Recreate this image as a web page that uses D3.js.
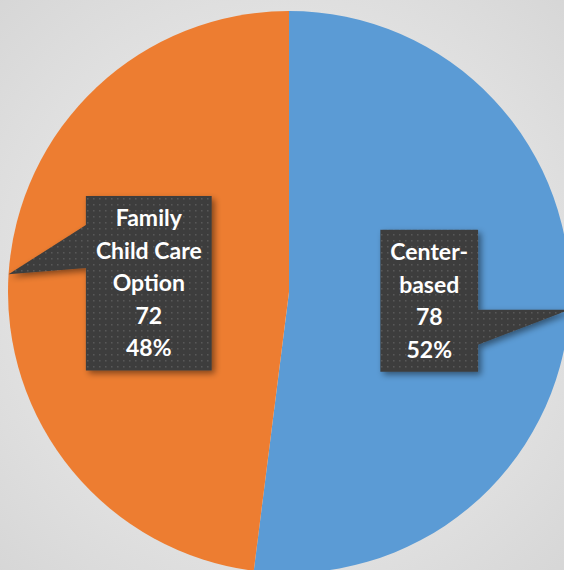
<!DOCTYPE html>
<html>
<head>
<meta charset="utf-8">
<script src="https://cdn.jsdelivr.net/npm/d3@7"></script>
<style>
  html, body { margin: 0; padding: 0; background: #e6e6e6; }
  svg { display: block; }
</style>
</head>
<body>
<div id="chart"></div>
<script>
// data
var categories = ["Center-based", "Family Child Care Option"];
var values = [78, 72];
var labelLines = [["Center-", "based"], ["Family", "Child Care", "Option"]];
var colors = ["#5b9bd5", "#ed7d31"];

var width = 564, height = 570;
var cx = 289, cy = 292, radius = 281;

var svg = d3.select("#chart").append("svg")
    .attr("width", width)
    .attr("height", height);

var defs = svg.append("defs");

// background gradient
var bg = defs.append("radialGradient").attr("id", "bg_grad")
    .attr("cx", "50%").attr("cy", "50%").attr("r", "72%");
bg.append("stop").attr("offset", "0%").attr("stop-color", "#f4f4f4");
bg.append("stop").attr("offset", "100%").attr("stop-color", "#d6d6d6");

// dotted texture for the callouts
var pat = defs.append("pattern").attr("id", "dots")
    .attr("width", 6).attr("height", 6)
    .attr("patternUnits", "userSpaceOnUse");
pat.append("rect").attr("width", 6).attr("height", 6).attr("fill", "#3d3d3d");
pat.append("rect").attr("x", 2).attr("y", 2).attr("width", 1.5).attr("height", 1.5).attr("fill", "#585858");

var shadow = defs.append("filter").attr("id", "shadow")
    .attr("x", "-20%").attr("y", "-20%").attr("width", "150%").attr("height", "150%");
shadow.append("feDropShadow")
    .attr("dx", 3).attr("dy", 3).attr("stdDeviation", 3)
    .attr("flood-color", "#000").attr("flood-opacity", 0.45);

svg.append("rect")
    .attr("width", width)
    .attr("height", height)
    .attr("fill", "url(#bg_grad)");

var pie = d3.pie().sort(null).value(function (d) { return d; });
var arcs = pie(values);
var total = d3.sum(values);

var arc = d3.arc().innerRadius(0).outerRadius(radius);

var vis = svg.append("g")
    .attr("transform", "translate(" + cx + "," + cy + ")");

vis.selectAll("path.slice")
    .data(arcs)
    .enter().append("path")
    .attr("class", "slice")
    .attr("d", arc)
    .attr("fill", function (d, i) { return colors[i]; });

// Draw the callouts------------------------------
var lineH = 32.5, padX = 10, padY = 6;
// where the wedge meets the box side, as offsets from the box top
var tailBase = [[80, 115], [29, 72]];

arcs.forEach(function (d, i) {
    var mid = (d.startAngle + d.endAngle) / 2;
    var tip = [radius * Math.sin(mid), -radius * Math.cos(mid)];
    var c = arc.centroid(d);
    var lines = labelLines[i].concat([String(values[i]), Math.round(values[i] / total * 100) + "%"]);

    var g = vis.append("g");
    var txt = g.append("g");
    var maxW = 0;
    lines.forEach(function (l, k) {
        var t = txt.append("text")
            .attr("x", c[0])
            .attr("y", c[1] + (k - (lines.length - 1) / 2) * lineH)
            .attr("dy", "0.36em")
            .attr("text-anchor", "middle")
            .style("font-family", "Lato, 'Open Sans', sans-serif")
            .style("font-weight", "bold")
            .style("font-size", "23px")
            .style("fill", "#fff")
            .text(l);
        maxW = Math.max(maxW, t.node().getComputedTextLength());
    });
    var bw = maxW + padX * 2, bh = lines.length * lineH + padY * 2;
    var x0 = c[0] - bw / 2, y0 = c[1] - bh / 2;
    var side = tip[0] < c[0] ? x0 : x0 + bw;
    var pts = [[x0, y0], [x0 + bw, y0]];
    if (side === x0 + bw) {
        pts.push([side, y0 + tailBase[i][0]], tip, [side, y0 + tailBase[i][1]]);
    }
    pts.push([x0 + bw, y0 + bh], [x0, y0 + bh]);
    if (side === x0) {
        pts.push([side, y0 + tailBase[i][1]], tip, [side, y0 + tailBase[i][0]]);
    }
    g.insert("path", ":first-child")
        .attr("d", d3.line()(pts) + "Z")
        .attr("fill", "url(#dots)")
        .attr("filter", "url(#shadow)");
});
</script>
</body>
</html>
